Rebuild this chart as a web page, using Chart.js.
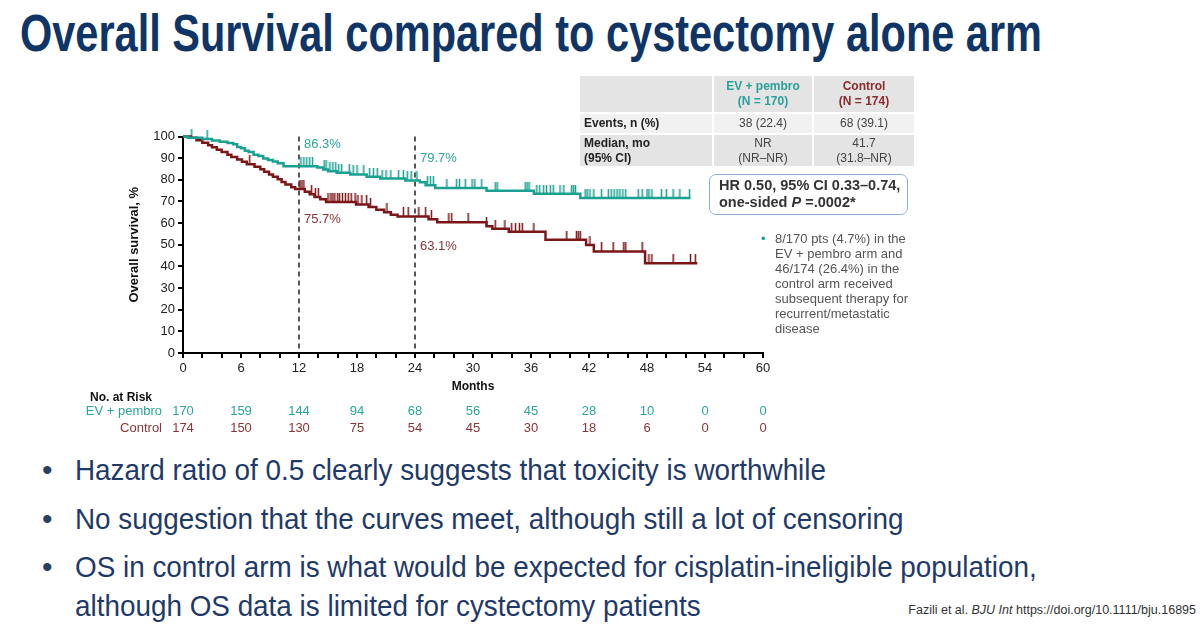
<!DOCTYPE html>
<html>
<head>
<meta charset="utf-8">
<script src="https://cdn.jsdelivr.net/npm/chart.js@4.4.1/dist/chart.umd.min.js"></script>
<style>
  body { margin: 0; width: 1200px; height: 639px; background: #fff; position: relative; overflow: hidden;
         font-family: "Liberation Sans", Arial, sans-serif; }
  #title { position: absolute; left: 20px; top: 8px; font: bold 51px/51px "Liberation Sans", Arial, sans-serif;
           color: #0f3566; white-space: nowrap; transform-origin: 0 0; }
  #chartBox { position: absolute; left: 80px; top: 115px; width: 720px; height: 330px; }
  #summary { position: absolute; left: 580px; top: 76px; border-collapse: separate; border-spacing: 2px 2px; margin: -2px;
             font-size: 12px; color: #444; }
  #summary td { padding: 0 4px; text-align: center; line-height: 15px; }
  #summary td.lab { text-align: left; font-weight: bold; color: #222; }
  .g1 { background: #e4e4e4; }
  .g2 { background: #f1f1f1; }
  #hr { position: absolute; left: 709px; top: 174px; width: 188px; height: 37px; border: 1.5px solid #8eaed6; border-radius: 7px;
        padding: 2px 0 0 9px; font: bold 14.5px/17px "Liberation Sans", Arial, sans-serif; color: #333; }
  #note { position: absolute; left: 775px; top: 231px; width: 160px; font-size: 13px; line-height: 15px; color: #555; }
  #note::before { content: "•"; position: absolute; left: -14px; top: 0; color: #1aa091; }
  .bullet { position: absolute; left: 75px; font: 30px/30px "Liberation Sans", Arial, sans-serif;
            color: #1f3a68; white-space: nowrap; transform-origin: 0 0; }
  .dot { position: absolute; left: 42px; font: 30px/30px "Liberation Sans", Arial, sans-serif; color: #2a3f5e; }
  #ref { position: absolute; right: 4px; top: 603px; font-size: 12.5px; color: #333; white-space: nowrap; }
</style>
</head>
<body>
<div id="title">Overall Survival compared to cystectomy alone arm</div>
<div id="chartBox"><canvas id="km"></canvas></div>

<table id="summary">
  <tr style="height:36px">
    <td class="g1" style="width:124px"></td>
    <td class="g1" style="width:90px;font-weight:bold;color:#2aa198">EV + pembro<br>(N = 170)</td>
    <td class="g1" style="width:92px;font-weight:bold;color:#8b2a2a">Control<br>(N = 174)</td>
  </tr>
  <tr style="height:19px" class="g2">
    <td class="lab g2">Events, n (%)</td><td class="g2">38 (22.4)</td><td class="g2">68 (39.1)</td>
  </tr>
  <tr style="height:31px">
    <td class="lab g1">Median, mo<br>(95% CI)</td><td class="g1">NR<br>(NR–NR)</td><td class="g1">41.7<br>(31.8–NR)</td>
  </tr>
</table>

<div id="hr">HR 0.50, 95% CI 0.33–0.74,<br>one-sided <i>P</i> =.0002*</div>
<div id="note">8/170 pts (4.7%) in the<br>EV + pembro arm and<br>46/174 (26.4%) in the<br>control arm received<br>subsequent therapy for<br>recurrent/metastatic<br>disease</div>

<div class="dot" style="top:455px">•</div>
<div class="dot" style="top:504px">•</div>
<div class="dot" style="top:552px">•</div>
<div class="bullet" id="b1" style="top:455px">Hazard ratio of 0.5 clearly suggests that toxicity is worthwhile</div>
<div class="bullet" style="top:504px">No suggestion that the curves meet, although still a lot of censoring</div>
<div class="bullet" style="top:552px">OS in control arm is what would be expected for cisplatin-ineligible population,</div>
<div class="bullet" style="top:591px">although OS data is limited for cystectomy patients</div>

<div id="ref">Fazili et al. <i>BJU Int</i> https://doi.org/10.1111/bju.16895</div>

<script>
const riskMonths = [0, 6, 12, 18, 24, 30, 36, 42, 48, 54, 60];
const riskEV = [170, 159, 144, 94, 68, 56, 45, 28, 10, 0, 0];
const riskControl = [174, 150, 130, 75, 54, 45, 30, 18, 6, 0, 0];

// Kaplan-Meier steps (month, survival % after the step)
const evTimes = [0, 0.5, 2.0, 3.0, 3.8, 4.6, 5.2, 5.6, 6.0, 6.4, 6.8, 7.3, 7.8, 8.3, 8.8, 9.3, 9.8, 10.4,
  13.9, 14.5, 15.0, 15.9, 17.3, 19.0, 20.4, 23.0, 24.5, 25.1, 26.1, 31.4, 36.3, 41.1, 52.5];
const evSurv = [100, 99.4, 98.8, 98.2, 97.6, 97.0, 96.4, 95.2, 94.6, 93.4, 92.8, 91.6, 91.0, 89.8, 89.2, 88.4, 87.6, 86.3,
  85.7, 84.8, 84.0, 83.2, 82.5, 81.4, 80.6, 79.7, 78.9, 77.5, 76.2, 75.0, 73.6, 71.6, 71.6];

const controlTimes = [0, 0.8, 1.4, 2.0, 2.6, 3.0, 3.5, 4.0, 4.6, 5.0, 5.6, 6.1, 6.6, 7.4, 8.0, 8.4, 8.9, 9.3, 9.8,
  10.2, 10.6, 11.2, 11.6, 12.6, 13.1, 13.6, 14.2, 14.8, 17.9, 19.2, 20.0, 20.8, 21.5, 22.2, 25.4, 26.3,
  31.4, 32.0, 33.7, 37.5, 41.7, 42.5, 47.8, 53.2];
const controlSurv = [100, 99.4, 98.3, 97.1, 96.0, 95.0, 93.9, 92.8, 91.6, 90.5, 89.4, 88.3, 87.2, 86.0, 84.9, 83.7, 82.5, 81.4, 80.2,
  79.0, 77.8, 76.6, 75.7, 74.5, 73.3, 72.1, 71.0, 69.8, 68.6, 67.4, 66.2, 65.0, 63.8, 63.1, 61.8, 60.4,
  58.6, 57.4, 56.0, 52.3, 49.9, 46.9, 41.5, 41.5];

// censored patients (month)
const evCensored = [0.9, 2.5, 12.2, 12.5, 12.8, 13.1, 13.4, 14.6, 14.8, 15.2, 15.5, 15.8, 16.1, 16.4, 17.2, 17.6, 18.0,
  18.7, 19.3, 19.7, 20.1, 20.6, 21.0, 21.5, 22.3, 22.8, 23.2, 23.6, 24.2, 25.3, 25.6, 25.9, 27.3, 28.3, 28.6, 29.2,
  29.9, 30.2, 30.9, 32.3, 32.5, 35.4, 35.6, 35.8, 36.6, 36.9, 37.3, 37.6, 38.0, 38.3, 39.0, 39.4, 40.2, 40.4, 40.6,
  41.6, 41.8, 42.1, 42.5, 43.3, 44.0, 44.3, 44.6, 44.9, 45.2, 45.5, 45.8, 47.1, 47.5, 48.0, 48.2, 48.5, 49.5, 50.0,
  50.7, 51.4, 52.4];
const controlCensored = [6.9, 12.1, 12.3, 12.5, 13.3, 13.7, 14.0, 15.0, 15.3, 15.5, 15.7, 16.0, 16.2, 16.5, 16.8, 17.1,
  17.4, 17.8, 18.1, 18.5, 19.0, 19.4, 21.1, 22.8, 23.3, 24.4, 25.1, 25.7, 27.5, 27.8, 29.5, 31.4, 32.3, 33.3, 34.0,
  34.4, 34.8, 35.1, 36.3, 39.7, 40.7, 40.9, 41.1, 42.1, 43.3, 44.5, 45.6, 45.8, 47.5, 48.2, 48.5, 50.7, 52.5, 53.0];

const landmarkMonths = [12, 24];
const evLandmark = [86.3, 79.7];
const controlLandmark = [75.7, 63.1];

const tealLine = "#1aa091", tealText = "#2aa59b";
const redLine = "#7c1517", redText = "#8b3434";
const sans = "'Liberation Sans', Arial, sans-serif";

// squeeze the slide text to the narrow face used in the original
function squeeze(el, target) {
  const w = el.getBoundingClientRect().width;
  const k = target / w;
  el.style.transform = `scaleX(${k})`;
  return k;
}
squeeze(document.getElementById("title"), 1022);
const k = squeeze(document.getElementById("b1"), 751);
document.querySelectorAll(".bullet").forEach((el) => { el.style.transform = `scaleX(${k})`; });

function survivalAt(times, surv, t) {
  let s = surv[0];
  for (let i = 0; i < times.length; i++) {
    if (times[i] <= t) s = surv[i];
  }
  return s;
}

function censorMark(color) {
  const c = document.createElement("canvas");
  c.width = 3;
  c.height = 18;
  const g = c.getContext("2d");
  g.fillStyle = color;
  g.fillRect(0.75, 0, 1.5, 9);
  return c;
}

const extras = {
  id: "extras",
  beforeDatasetsDraw(chart) {
    const { ctx, chartArea, scales: { x, y } } = chart;
    ctx.save();
    ctx.strokeStyle = "#222";
    ctx.lineWidth = 1.5;
    ctx.setLineDash([5, 4]);
    landmarkMonths.forEach((m) => {
      const px = x.getPixelForValue(m);
      ctx.beginPath();
      ctx.moveTo(px, y.getPixelForValue(100));
      ctx.lineTo(px, chartArea.bottom);
      ctx.stroke();
    });
    ctx.restore();
  },
  afterDraw(chart) {
    const { ctx, scales: { x, y } } = chart;
    ctx.save();
    ctx.font = "13px " + sans;
    ctx.textBaseline = "middle";
    landmarkMonths.forEach((m, i) => {
      const px = x.getPixelForValue(m) + 5;
      ctx.fillStyle = tealText;
      ctx.fillText(evLandmark[i] + "%", px, y.getPixelForValue(evLandmark[i]) - 22);
      ctx.fillStyle = redText;
      ctx.fillText(controlLandmark[i] + "%", px, y.getPixelForValue(controlLandmark[i]) + 30);
    });

    // number at risk table
    const base = chart.chartArea.bottom;
    ctx.font = "bold 12px " + sans;
    ctx.fillStyle = "#111";
    ctx.textAlign = "right";
    ctx.fillText("No. at Risk", 72, base + 45);
    ctx.font = "13px " + sans;
    ctx.fillStyle = tealText;
    ctx.fillText("EV + pembro", 82, base + 58);
    ctx.fillStyle = redText;
    ctx.fillText("Control", 82, base + 75);
    ctx.textAlign = "center";
    riskMonths.forEach((m, i) => {
      const px = x.getPixelForValue(m);
      ctx.fillStyle = tealText;
      ctx.fillText(String(riskEV[i]), px, base + 58);
      ctx.fillStyle = redText;
      ctx.fillText(String(riskControl[i]), px, base + 75);
    });
    ctx.restore();
  },
};

const ctx = document.getElementById("km");
const chart = new Chart(ctx, {
  type: "line",
  data: {
    datasets: [
      {
        label: "EV + pembro",
        data: evTimes.map((t, i) => ({ x: t, y: evSurv[i] })),
        borderColor: tealLine,
        borderWidth: 2.5,
        stepped: "before",
        pointRadius: 0,
        clip: 6,
      },
      {
        label: "Control",
        data: controlTimes.map((t, i) => ({ x: t, y: controlSurv[i] })),
        borderColor: redLine,
        borderWidth: 2.5,
        stepped: "before",
        pointRadius: 0,
        clip: 6,
      },
      {
        label: "EV + pembro censored",
        data: evCensored.map((t) => ({ x: t, y: survivalAt(evTimes, evSurv, t) })),
        showLine: false,
        pointStyle: censorMark(tealLine),
        pointRadius: 5,
        clip: 12,
      },
      {
        label: "Control censored",
        data: controlCensored.map((t) => ({ x: t, y: survivalAt(controlTimes, controlSurv, t) })),
        showLine: false,
        pointStyle: censorMark(redLine),
        pointRadius: 5,
        clip: 12,
      },
    ],
  },
  options: {
    responsive: true,
    maintainAspectRatio: false,
    animation: false,
    layout: { padding: { left: 43, right: 37, top: 21.5, bottom: 47 } },
    plugins: { legend: { display: false }, tooltip: { enabled: false } },
    scales: {
      x: {
        type: "linear",
        min: 0,
        max: 60,
        afterFit: (scale) => { scale.height = 45; },
        ticks: {
          stepSize: 2,
          autoSkip: false,
          maxRotation: 0,
          color: "#222",
          font: { size: 13, family: sans },
          callback: (v) => (v % 6 === 0 ? v : ""),
        },
        grid: { drawOnChartArea: false, tickLength: 5, color: "#000", lineWidth: 2 },
        border: { color: "#000", width: 2 },
        title: { display: true, text: "Months", color: "#111", font: { size: 12, weight: "bold", family: sans } },
      },
      y: {
        min: 0,
        max: 100,
        afterFit: (scale) => { scale.width = 60; },
        ticks: { stepSize: 10, color: "#222", font: { size: 13, family: sans } },
        grid: { drawOnChartArea: false, tickLength: 5, color: "#000", lineWidth: 2 },
        border: { color: "#000", width: 2 },
        title: { display: true, text: "Overall survival, %", color: "#111", font: { size: 13, weight: "bold", family: sans } },
      },
    },
  },
  plugins: [extras],
});
</script>
</body>
</html>
